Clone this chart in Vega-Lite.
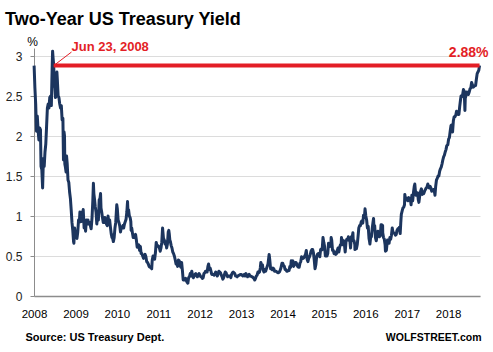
{
"$schema": "https://vega.github.io/schema/vega-lite/v6.json",
"autosize": "none",
"width": 446,
"height": 248,
"padding": {"left": 34, "top": 48, "right": 13, "bottom": 56},
"background": "white",
"config": {"view": {"stroke": null}, "font": "Liberation Sans"},
"title": {"text": "Two-Year US Treasury Yield", "anchor": "start", "frame": "group", "font": "Liberation Sans", "fontSize": 18, "fontWeight": "bold", "color": "#000000", "dx": -29, "offset": 6},
"datasets": {
"yield": [
{"date":"2008-01-02","value":2.88},{"date":"2008-01-09","value":2.6},{"date":"2008-01-16","value":2.4},{"date":"2008-01-23","value":2.06},{"date":"2008-01-30","value":2.25},{"date":"2008-02-06","value":2.08},{"date":"2008-02-13","value":1.95},{"date":"2008-02-20","value":2.1},{"date":"2008-02-27","value":2.08},{"date":"2008-03-03","value":1.62},{"date":"2008-03-10","value":1.58},{"date":"2008-03-17","value":1.35},{"date":"2008-03-24","value":1.72},{"date":"2008-03-31","value":1.62},{"date":"2008-04-07","value":1.8},{"date":"2008-04-14","value":1.9},{"date":"2008-04-21","value":2.12},{"date":"2008-04-28","value":2.35},{"date":"2008-05-05","value":2.4},{"date":"2008-05-12","value":2.35},{"date":"2008-05-19","value":2.48},{"date":"2008-05-27","value":2.5},{"date":"2008-06-02","value":2.38},{"date":"2008-06-06","value":2.65},{"date":"2008-06-10","value":2.9},{"date":"2008-06-13","value":3.06},{"date":"2008-06-17","value":2.98},{"date":"2008-06-23","value":2.88},{"date":"2008-06-27","value":2.65},{"date":"2008-07-03","value":2.6},{"date":"2008-07-08","value":2.48},{"date":"2008-07-15","value":2.5},{"date":"2008-07-21","value":2.8},{"date":"2008-07-25","value":2.7},{"date":"2008-08-01","value":2.5},{"date":"2008-08-08","value":2.48},{"date":"2008-08-15","value":2.4},{"date":"2008-08-22","value":2.35},{"date":"2008-08-29","value":2.38},{"date":"2008-09-05","value":2.2},{"date":"2008-09-12","value":2.22},{"date":"2008-09-17","value":1.7},{"date":"2008-09-22","value":2.05},{"date":"2008-09-26","value":2.0},{"date":"2008-09-29","value":1.65},{"date":"2008-10-03","value":1.62},{"date":"2008-10-10","value":1.55},{"date":"2008-10-14","value":1.75},{"date":"2008-10-20","value":1.65},{"date":"2008-10-27","value":1.45},{"date":"2008-11-03","value":1.42},{"date":"2008-11-10","value":1.3},{"date":"2008-11-17","value":1.22},{"date":"2008-11-24","value":1.08},{"date":"2008-12-01","value":0.92},{"date":"2008-12-08","value":0.82},{"date":"2008-12-15","value":0.68},{"date":"2008-12-18","value":0.66},{"date":"2008-12-24","value":0.85},{"date":"2008-12-31","value":0.77},
{"date":"2009-01-07","value":0.8},{"date":"2009-01-14","value":0.72},{"date":"2009-01-21","value":0.8},{"date":"2009-01-28","value":0.95},{"date":"2009-02-04","value":0.92},{"date":"2009-02-09","value":1.05},{"date":"2009-02-13","value":0.98},{"date":"2009-02-20","value":0.93},{"date":"2009-02-26","value":1.05},{"date":"2009-03-04","value":1.0},{"date":"2009-03-10","value":1.08},{"date":"2009-03-18","value":0.85},{"date":"2009-03-24","value":0.93},{"date":"2009-03-31","value":0.81},{"date":"2009-04-07","value":0.95},{"date":"2009-04-14","value":0.9},{"date":"2009-04-21","value":0.95},{"date":"2009-04-28","value":0.9},{"date":"2009-05-05","value":0.92},{"date":"2009-05-12","value":0.88},{"date":"2009-05-19","value":0.84},{"date":"2009-05-27","value":0.98},{"date":"2009-06-03","value":1.2},{"date":"2009-06-08","value":1.41},{"date":"2009-06-12","value":1.28},{"date":"2009-06-17","value":1.22},{"date":"2009-06-24","value":1.12},{"date":"2009-07-01","value":1.05},{"date":"2009-07-08","value":0.9},{"date":"2009-07-14","value":1.0},{"date":"2009-07-22","value":0.95},{"date":"2009-07-29","value":1.2},{"date":"2009-08-05","value":1.22},{"date":"2009-08-10","value":1.28},{"date":"2009-08-14","value":1.1},{"date":"2009-08-20","value":1.05},{"date":"2009-08-27","value":0.98},{"date":"2009-09-03","value":0.92},{"date":"2009-09-10","value":0.92},{"date":"2009-09-17","value":0.98},{"date":"2009-09-24","value":0.96},{"date":"2009-10-01","value":0.9},{"date":"2009-10-08","value":0.88},{"date":"2009-10-15","value":1.0},{"date":"2009-10-22","value":0.92},{"date":"2009-10-29","value":0.95},{"date":"2009-11-05","value":0.86},{"date":"2009-11-12","value":0.78},{"date":"2009-11-19","value":0.73},{"date":"2009-11-25","value":0.72},{"date":"2009-12-01","value":0.68},{"date":"2009-12-08","value":0.73},{"date":"2009-12-15","value":0.85},{"date":"2009-12-22","value":0.92},{"date":"2009-12-31","value":1.14},
{"date":"2010-01-05","value":1.09},{"date":"2010-01-12","value":0.95},{"date":"2010-01-19","value":0.92},{"date":"2010-01-26","value":0.88},{"date":"2010-02-02","value":0.8},{"date":"2010-02-09","value":0.86},{"date":"2010-02-16","value":0.85},{"date":"2010-02-23","value":0.88},{"date":"2010-03-02","value":0.85},{"date":"2010-03-09","value":0.9},{"date":"2010-03-16","value":0.93},{"date":"2010-03-23","value":0.96},{"date":"2010-03-30","value":1.05},{"date":"2010-04-05","value":1.18},{"date":"2010-04-09","value":1.05},{"date":"2010-04-14","value":1.08},{"date":"2010-04-21","value":1.0},{"date":"2010-04-28","value":0.98},{"date":"2010-05-04","value":0.93},{"date":"2010-05-07","value":0.82},{"date":"2010-05-12","value":0.85},{"date":"2010-05-19","value":0.78},{"date":"2010-05-25","value":0.73},{"date":"2010-06-01","value":0.76},{"date":"2010-06-08","value":0.73},{"date":"2010-06-15","value":0.77},{"date":"2010-06-22","value":0.7},{"date":"2010-06-29","value":0.61},{"date":"2010-07-06","value":0.62},{"date":"2010-07-13","value":0.64},{"date":"2010-07-20","value":0.57},{"date":"2010-07-27","value":0.62},{"date":"2010-08-03","value":0.53},{"date":"2010-08-10","value":0.53},{"date":"2010-08-17","value":0.5},{"date":"2010-08-24","value":0.47},{"date":"2010-08-31","value":0.49},{"date":"2010-09-07","value":0.52},{"date":"2010-09-14","value":0.49},{"date":"2010-09-21","value":0.43},{"date":"2010-09-28","value":0.42},{"date":"2010-10-05","value":0.4},{"date":"2010-10-12","value":0.37},{"date":"2010-10-19","value":0.36},{"date":"2010-10-26","value":0.36},{"date":"2010-11-04","value":0.34},{"date":"2010-11-09","value":0.45},{"date":"2010-11-16","value":0.5},{"date":"2010-11-23","value":0.48},{"date":"2010-11-30","value":0.46},{"date":"2010-12-07","value":0.54},{"date":"2010-12-14","value":0.67},{"date":"2010-12-21","value":0.62},{"date":"2010-12-28","value":0.63},
{"date":"2011-01-04","value":0.62},{"date":"2011-01-11","value":0.6},{"date":"2011-01-18","value":0.56},{"date":"2011-01-25","value":0.6},{"date":"2011-02-01","value":0.67},{"date":"2011-02-08","value":0.85},{"date":"2011-02-11","value":0.8},{"date":"2011-02-16","value":0.72},{"date":"2011-02-23","value":0.7},{"date":"2011-03-02","value":0.65},{"date":"2011-03-09","value":0.68},{"date":"2011-03-16","value":0.6},{"date":"2011-03-23","value":0.65},{"date":"2011-03-30","value":0.8},{"date":"2011-04-04","value":0.82},{"date":"2011-04-08","value":0.78},{"date":"2011-04-13","value":0.7},{"date":"2011-04-18","value":0.68},{"date":"2011-04-25","value":0.63},{"date":"2011-05-02","value":0.6},{"date":"2011-05-09","value":0.55},{"date":"2011-05-16","value":0.53},{"date":"2011-05-23","value":0.5},{"date":"2011-05-31","value":0.45},{"date":"2011-06-07","value":0.4},{"date":"2011-06-14","value":0.41},{"date":"2011-06-21","value":0.37},{"date":"2011-06-28","value":0.45},{"date":"2011-07-05","value":0.44},{"date":"2011-07-12","value":0.38},{"date":"2011-07-19","value":0.36},{"date":"2011-07-26","value":0.42},{"date":"2011-08-02","value":0.32},{"date":"2011-08-09","value":0.2},{"date":"2011-08-16","value":0.2},{"date":"2011-08-23","value":0.2},{"date":"2011-08-30","value":0.22},{"date":"2011-09-06","value":0.19},{"date":"2011-09-13","value":0.17},{"date":"2011-09-19","value":0.16},{"date":"2011-09-26","value":0.23},{"date":"2011-10-03","value":0.24},{"date":"2011-10-10","value":0.28},{"date":"2011-10-17","value":0.27},{"date":"2011-10-24","value":0.31},{"date":"2011-10-31","value":0.24},{"date":"2011-11-07","value":0.23},{"date":"2011-11-14","value":0.25},{"date":"2011-11-21","value":0.27},{"date":"2011-11-28","value":0.28},{"date":"2011-12-05","value":0.26},{"date":"2011-12-12","value":0.24},{"date":"2011-12-19","value":0.26},{"date":"2011-12-27","value":0.28},
{"date":"2012-01-04","value":0.26},{"date":"2012-01-11","value":0.24},{"date":"2012-01-18","value":0.24},{"date":"2012-01-25","value":0.22},{"date":"2012-02-01","value":0.23},{"date":"2012-02-08","value":0.28},{"date":"2012-02-15","value":0.29},{"date":"2012-02-22","value":0.31},{"date":"2012-02-29","value":0.3},{"date":"2012-03-07","value":0.3},{"date":"2012-03-14","value":0.37},{"date":"2012-03-20","value":0.4},{"date":"2012-03-27","value":0.33},{"date":"2012-04-03","value":0.35},{"date":"2012-04-10","value":0.31},{"date":"2012-04-17","value":0.27},{"date":"2012-04-24","value":0.27},{"date":"2012-05-01","value":0.27},{"date":"2012-05-08","value":0.26},{"date":"2012-05-15","value":0.28},{"date":"2012-05-22","value":0.3},{"date":"2012-05-29","value":0.27},{"date":"2012-06-05","value":0.25},{"date":"2012-06-12","value":0.28},{"date":"2012-06-19","value":0.31},{"date":"2012-06-26","value":0.3},{"date":"2012-07-03","value":0.29},{"date":"2012-07-10","value":0.26},{"date":"2012-07-17","value":0.24},{"date":"2012-07-24","value":0.21},{"date":"2012-07-31","value":0.23},{"date":"2012-08-07","value":0.27},{"date":"2012-08-14","value":0.3},{"date":"2012-08-21","value":0.29},{"date":"2012-08-28","value":0.26},{"date":"2012-09-04","value":0.24},{"date":"2012-09-11","value":0.25},{"date":"2012-09-18","value":0.25},{"date":"2012-09-25","value":0.25},{"date":"2012-10-02","value":0.23},{"date":"2012-10-09","value":0.27},{"date":"2012-10-16","value":0.29},{"date":"2012-10-23","value":0.3},{"date":"2012-10-30","value":0.29},{"date":"2012-11-06","value":0.28},{"date":"2012-11-13","value":0.25},{"date":"2012-11-20","value":0.25},{"date":"2012-11-27","value":0.24},{"date":"2012-12-04","value":0.25},{"date":"2012-12-11","value":0.26},{"date":"2012-12-18","value":0.26},{"date":"2012-12-26","value":0.27},
{"date":"2013-01-02","value":0.27},{"date":"2013-01-09","value":0.26},{"date":"2013-01-16","value":0.25},{"date":"2013-01-23","value":0.26},{"date":"2013-01-30","value":0.27},{"date":"2013-02-06","value":0.25},{"date":"2013-02-13","value":0.28},{"date":"2013-02-20","value":0.26},{"date":"2013-02-27","value":0.24},{"date":"2013-03-06","value":0.25},{"date":"2013-03-13","value":0.27},{"date":"2013-03-20","value":0.25},{"date":"2013-03-27","value":0.25},{"date":"2013-04-03","value":0.24},{"date":"2013-04-10","value":0.24},{"date":"2013-04-17","value":0.23},{"date":"2013-04-24","value":0.22},{"date":"2013-05-01","value":0.2},{"date":"2013-05-08","value":0.22},{"date":"2013-05-15","value":0.25},{"date":"2013-05-22","value":0.26},{"date":"2013-05-29","value":0.3},{"date":"2013-06-05","value":0.29},{"date":"2013-06-12","value":0.3},{"date":"2013-06-19","value":0.35},{"date":"2013-06-24","value":0.42},{"date":"2013-07-01","value":0.38},{"date":"2013-07-08","value":0.39},{"date":"2013-07-15","value":0.32},{"date":"2013-07-22","value":0.3},{"date":"2013-07-29","value":0.33},{"date":"2013-08-05","value":0.31},{"date":"2013-08-12","value":0.34},{"date":"2013-08-19","value":0.37},{"date":"2013-08-26","value":0.4},{"date":"2013-09-05","value":0.52},{"date":"2013-09-10","value":0.46},{"date":"2013-09-18","value":0.34},{"date":"2013-09-25","value":0.34},{"date":"2013-10-02","value":0.33},{"date":"2013-10-09","value":0.35},{"date":"2013-10-16","value":0.34},{"date":"2013-10-23","value":0.31},{"date":"2013-10-30","value":0.31},{"date":"2013-11-06","value":0.31},{"date":"2013-11-13","value":0.3},{"date":"2013-11-20","value":0.29},{"date":"2013-11-27","value":0.29},{"date":"2013-12-04","value":0.3},{"date":"2013-12-11","value":0.32},{"date":"2013-12-18","value":0.35},{"date":"2013-12-27","value":0.41},
{"date":"2014-01-03","value":0.41},{"date":"2014-01-10","value":0.38},{"date":"2014-01-17","value":0.37},{"date":"2014-01-24","value":0.33},{"date":"2014-01-31","value":0.33},{"date":"2014-02-07","value":0.31},{"date":"2014-02-14","value":0.31},{"date":"2014-02-21","value":0.32},{"date":"2014-02-28","value":0.32},{"date":"2014-03-07","value":0.37},{"date":"2014-03-14","value":0.36},{"date":"2014-03-19","value":0.44},{"date":"2014-03-26","value":0.42},{"date":"2014-04-02","value":0.44},{"date":"2014-04-09","value":0.37},{"date":"2014-04-16","value":0.39},{"date":"2014-04-23","value":0.42},{"date":"2014-04-30","value":0.42},{"date":"2014-05-07","value":0.4},{"date":"2014-05-14","value":0.37},{"date":"2014-05-21","value":0.36},{"date":"2014-05-28","value":0.36},{"date":"2014-06-04","value":0.41},{"date":"2014-06-11","value":0.43},{"date":"2014-06-18","value":0.49},{"date":"2014-06-25","value":0.47},{"date":"2014-07-02","value":0.47},{"date":"2014-07-09","value":0.48},{"date":"2014-07-16","value":0.5},{"date":"2014-07-23","value":0.52},{"date":"2014-07-30","value":0.57},{"date":"2014-08-06","value":0.46},{"date":"2014-08-13","value":0.43},{"date":"2014-08-20","value":0.47},{"date":"2014-08-27","value":0.49},{"date":"2014-09-03","value":0.52},{"date":"2014-09-10","value":0.56},{"date":"2014-09-17","value":0.58},{"date":"2014-09-24","value":0.58},{"date":"2014-10-01","value":0.54},{"date":"2014-10-08","value":0.45},{"date":"2014-10-15","value":0.34},{"date":"2014-10-22","value":0.39},{"date":"2014-10-29","value":0.49},{"date":"2014-11-05","value":0.52},{"date":"2014-11-12","value":0.53},{"date":"2014-11-19","value":0.53},{"date":"2014-11-26","value":0.49},{"date":"2014-12-03","value":0.58},{"date":"2014-12-10","value":0.59},{"date":"2014-12-17","value":0.58},{"date":"2014-12-24","value":0.73},{"date":"2014-12-31","value":0.67},
{"date":"2015-01-07","value":0.62},{"date":"2015-01-14","value":0.5},{"date":"2015-01-21","value":0.52},{"date":"2015-01-28","value":0.5},{"date":"2015-02-04","value":0.53},{"date":"2015-02-11","value":0.66},{"date":"2015-02-18","value":0.62},{"date":"2015-02-25","value":0.62},{"date":"2015-03-04","value":0.65},{"date":"2015-03-06","value":0.73},{"date":"2015-03-11","value":0.7},{"date":"2015-03-18","value":0.57},{"date":"2015-03-25","value":0.57},{"date":"2015-04-01","value":0.53},{"date":"2015-04-08","value":0.55},{"date":"2015-04-15","value":0.52},{"date":"2015-04-22","value":0.53},{"date":"2015-04-29","value":0.57},{"date":"2015-05-06","value":0.6},{"date":"2015-05-13","value":0.55},{"date":"2015-05-20","value":0.61},{"date":"2015-05-27","value":0.64},{"date":"2015-06-03","value":0.65},{"date":"2015-06-05","value":0.73},{"date":"2015-06-10","value":0.7},{"date":"2015-06-17","value":0.64},{"date":"2015-06-24","value":0.69},{"date":"2015-07-01","value":0.65},{"date":"2015-07-08","value":0.55},{"date":"2015-07-15","value":0.68},{"date":"2015-07-22","value":0.71},{"date":"2015-07-29","value":0.7},{"date":"2015-08-05","value":0.74},{"date":"2015-08-12","value":0.7},{"date":"2015-08-19","value":0.68},{"date":"2015-08-24","value":0.6},{"date":"2015-08-31","value":0.74},{"date":"2015-09-08","value":0.74},{"date":"2015-09-14","value":0.79},{"date":"2015-09-17","value":0.69},{"date":"2015-09-24","value":0.69},{"date":"2015-10-01","value":0.64},{"date":"2015-10-02","value":0.58},{"date":"2015-10-08","value":0.63},{"date":"2015-10-15","value":0.59},{"date":"2015-10-22","value":0.64},{"date":"2015-10-29","value":0.74},{"date":"2015-11-05","value":0.85},{"date":"2015-11-12","value":0.88},{"date":"2015-11-19","value":0.88},{"date":"2015-11-27","value":0.93},{"date":"2015-12-03","value":0.94},{"date":"2015-12-10","value":0.91},{"date":"2015-12-17","value":1.01},{"date":"2015-12-24","value":0.98},{"date":"2015-12-30","value":1.09},
{"date":"2016-01-06","value":1.0},{"date":"2016-01-13","value":0.95},{"date":"2016-01-20","value":0.85},{"date":"2016-01-27","value":0.87},{"date":"2016-02-03","value":0.72},{"date":"2016-02-08","value":0.68},{"date":"2016-02-11","value":0.65},{"date":"2016-02-17","value":0.73},{"date":"2016-02-24","value":0.74},{"date":"2016-03-02","value":0.84},{"date":"2016-03-09","value":0.92},{"date":"2016-03-14","value":0.97},{"date":"2016-03-18","value":0.85},{"date":"2016-03-24","value":0.88},{"date":"2016-03-31","value":0.73},{"date":"2016-04-07","value":0.69},{"date":"2016-04-14","value":0.76},{"date":"2016-04-21","value":0.81},{"date":"2016-04-28","value":0.78},{"date":"2016-05-05","value":0.74},{"date":"2016-05-12","value":0.75},{"date":"2016-05-19","value":0.89},{"date":"2016-05-26","value":0.89},{"date":"2016-06-02","value":0.88},{"date":"2016-06-03","value":0.79},{"date":"2016-06-10","value":0.73},{"date":"2016-06-17","value":0.71},{"date":"2016-06-24","value":0.64},{"date":"2016-06-27","value":0.56},{"date":"2016-07-05","value":0.57},{"date":"2016-07-08","value":0.61},{"date":"2016-07-15","value":0.7},{"date":"2016-07-22","value":0.68},{"date":"2016-07-29","value":0.66},{"date":"2016-08-05","value":0.73},{"date":"2016-08-12","value":0.71},{"date":"2016-08-19","value":0.76},{"date":"2016-08-26","value":0.85},{"date":"2016-09-02","value":0.79},{"date":"2016-09-09","value":0.79},{"date":"2016-09-16","value":0.78},{"date":"2016-09-23","value":0.76},{"date":"2016-09-30","value":0.77},{"date":"2016-10-07","value":0.82},{"date":"2016-10-14","value":0.84},{"date":"2016-10-21","value":0.83},{"date":"2016-10-28","value":0.86},{"date":"2016-11-04","value":0.78},{"date":"2016-11-09","value":0.91},{"date":"2016-11-14","value":1.02},{"date":"2016-11-21","value":1.06},{"date":"2016-11-28","value":1.1},{"date":"2016-12-05","value":1.11},{"date":"2016-12-12","value":1.14},{"date":"2016-12-15","value":1.27},{"date":"2016-12-21","value":1.21},{"date":"2016-12-30","value":1.2},
{"date":"2017-01-04","value":1.22},{"date":"2017-01-11","value":1.19},{"date":"2017-01-18","value":1.23},{"date":"2017-01-25","value":1.22},{"date":"2017-02-01","value":1.22},{"date":"2017-02-08","value":1.14},{"date":"2017-02-15","value":1.26},{"date":"2017-02-22","value":1.19},{"date":"2017-03-01","value":1.29},{"date":"2017-03-08","value":1.37},{"date":"2017-03-13","value":1.4},{"date":"2017-03-17","value":1.33},{"date":"2017-03-24","value":1.26},{"date":"2017-03-31","value":1.27},{"date":"2017-04-07","value":1.29},{"date":"2017-04-13","value":1.2},{"date":"2017-04-18","value":1.17},{"date":"2017-04-26","value":1.26},{"date":"2017-05-03","value":1.31},{"date":"2017-05-10","value":1.34},{"date":"2017-05-17","value":1.27},{"date":"2017-05-24","value":1.3},{"date":"2017-05-31","value":1.28},{"date":"2017-06-07","value":1.31},{"date":"2017-06-14","value":1.33},{"date":"2017-06-21","value":1.35},{"date":"2017-06-28","value":1.36},{"date":"2017-07-06","value":1.4},{"date":"2017-07-12","value":1.36},{"date":"2017-07-19","value":1.35},{"date":"2017-07-26","value":1.37},{"date":"2017-08-02","value":1.35},{"date":"2017-08-09","value":1.31},{"date":"2017-08-16","value":1.32},{"date":"2017-08-23","value":1.33},{"date":"2017-08-30","value":1.33},{"date":"2017-09-07","value":1.26},{"date":"2017-09-13","value":1.37},{"date":"2017-09-20","value":1.45},{"date":"2017-09-27","value":1.47},{"date":"2017-10-04","value":1.5},{"date":"2017-10-11","value":1.5},{"date":"2017-10-18","value":1.56},{"date":"2017-10-25","value":1.59},{"date":"2017-11-01","value":1.61},{"date":"2017-11-08","value":1.65},{"date":"2017-11-15","value":1.7},{"date":"2017-11-22","value":1.74},{"date":"2017-11-29","value":1.76},{"date":"2017-12-06","value":1.8},{"date":"2017-12-13","value":1.83},{"date":"2017-12-20","value":1.88},{"date":"2017-12-29","value":1.89},
{"date":"2018-01-05","value":1.96},{"date":"2018-01-12","value":1.98},{"date":"2018-01-19","value":2.06},{"date":"2018-01-26","value":2.13},{"date":"2018-02-02","value":2.14},{"date":"2018-02-09","value":2.05},{"date":"2018-02-16","value":2.19},{"date":"2018-02-23","value":2.24},{"date":"2018-03-02","value":2.24},{"date":"2018-03-09","value":2.26},{"date":"2018-03-16","value":2.31},{"date":"2018-03-23","value":2.29},{"date":"2018-03-30","value":2.27},{"date":"2018-04-06","value":2.27},{"date":"2018-04-13","value":2.37},{"date":"2018-04-20","value":2.45},{"date":"2018-04-25","value":2.5},{"date":"2018-05-02","value":2.49},{"date":"2018-05-09","value":2.52},{"date":"2018-05-16","value":2.58},{"date":"2018-05-23","value":2.56},{"date":"2018-05-29","value":2.32},{"date":"2018-06-01","value":2.47},{"date":"2018-06-08","value":2.51},{"date":"2018-06-15","value":2.55},{"date":"2018-06-22","value":2.53},{"date":"2018-06-29","value":2.52},{"date":"2018-07-06","value":2.55},{"date":"2018-07-13","value":2.59},{"date":"2018-07-20","value":2.6},{"date":"2018-07-27","value":2.67},{"date":"2018-08-03","value":2.64},{"date":"2018-08-10","value":2.61},{"date":"2018-08-17","value":2.62},{"date":"2018-08-24","value":2.63},{"date":"2018-08-31","value":2.63},{"date":"2018-09-07","value":2.71},{"date":"2018-09-14","value":2.78},{"date":"2018-09-21","value":2.8},{"date":"2018-09-28","value":2.82},{"date":"2018-10-05","value":2.88}
]
},
"encoding": {
"x": {"field": "date", "type": "temporal",
 "scale": {"type": "utc", "domain": [{"year": 2008, "month": 1, "date": 1, "utc": true}, {"year": 2018, "month": 10, "date": 9, "utc": true}]},
 "axis": {"format": "%Y", "tickCount": "year", "grid": false, "ticks": false, "labelFlush": false, "labelOverlap": false,
  "domainColor": "#8c8c8c", "domainWidth": 1.5, "labelFontSize": 11.5, "labelColor": "#000000", "labelPadding": 12, "labelFont": "Liberation Sans",
  "title": "Source: US Treasury Dept.", "titleX": -9, "titleY": 44, "titleAlign": "left", "titleBaseline": "alphabetic", "titleFontSize": 11, "titleFontWeight": "bold", "titleColor": "#000000", "titleFont": "Liberation Sans"}}
},
"layer": [
{"data": {"name": "yield"}, "mark": {"type": "line", "color": "#1c355e", "strokeWidth": 3, "strokeJoin": "round"},
 "encoding": {"y": {"field": "value", "type": "quantitative", "scale": {"domain": [0, 3.1], "nice": false},
  "axis": {"values": [0, 0.5, 1, 1.5, 2, 2.5, 3], "format": "~g", "grid": true, "gridColor": "#dcdcdc", "gridWidth": 1, "domainColor": "#8c8c8c", "tickColor": "#8c8c8c", "tickSize": 4, "labelPadding": 8, "labelFontSize": 12, "labelColor": "#222222", "labelFont": "Liberation Sans", "labelFlush": false,
   "title": "%", "titleAngle": 0, "titleX": -2, "titleY": -3, "titleAlign": "center", "titleBaseline": "alphabetic", "titleFontSize": 12, "titleFontWeight": "normal", "titleColor": "#000000", "titleFont": "Liberation Sans"}}}},
{"data": {"values": [{"date": "2008-06-23", "end": "2018-10-05", "value": 2.88}]}, "mark": {"type": "rule", "color": "#e31e26", "strokeWidth": 4},
 "encoding": {"x2": {"field": "end"}, "y": {"field": "value", "type": "quantitative", "scale": {"domain": [0, 3.1], "nice": false},
  "axis": {"orient": "right", "domain": false, "ticks": false, "labels": false, "grid": false, "title": "WOLFSTREET.com", "titleAngle": 0, "titleX": 1, "titleY": 292, "titleAlign": "right", "titleBaseline": "alphabetic", "titleFontSize": 10.5, "titleFontWeight": "bold", "titleColor": "#000000", "titleFont": "Liberation Sans"}}}},
{"data": {"values": [{"date": "2008-06-23", "value": 2.88, "date2": "2008-11-27", "value2": 3.05}]}, "mark": {"type": "rule", "color": "#e31e26", "strokeWidth": 1},
 "encoding": {"x2": {"field": "date2"}, "y": {"field": "value", "type": "quantitative", "axis": null}, "y2": {"field": "value2"}}},
{"data": {"values": [{"date": "2008-11-27", "value": 3.06, "label": "Jun 23, 2008"}]}, "mark": {"type": "text", "color": "#e31e26", "font": "Liberation Sans", "fontSize": 13, "fontWeight": "bold", "align": "left", "baseline": "alphabetic", "dx": 0},
 "encoding": {"y": {"field": "value", "type": "quantitative", "axis": null}, "text": {"field": "label"}}},
{"data": {"values": [{"date": "2018-10-05", "value": 2.88, "label": "2.88%"}]}, "mark": {"type": "text", "color": "#e31e26", "font": "Liberation Sans", "fontSize": 14, "fontWeight": "bold", "align": "right", "baseline": "alphabetic", "dx": 9, "dy": -8.5},
 "encoding": {"y": {"field": "value", "type": "quantitative", "axis": null}, "text": {"field": "label"}}}
],
"resolve": {"axis": {"y": "independent"}}
}
